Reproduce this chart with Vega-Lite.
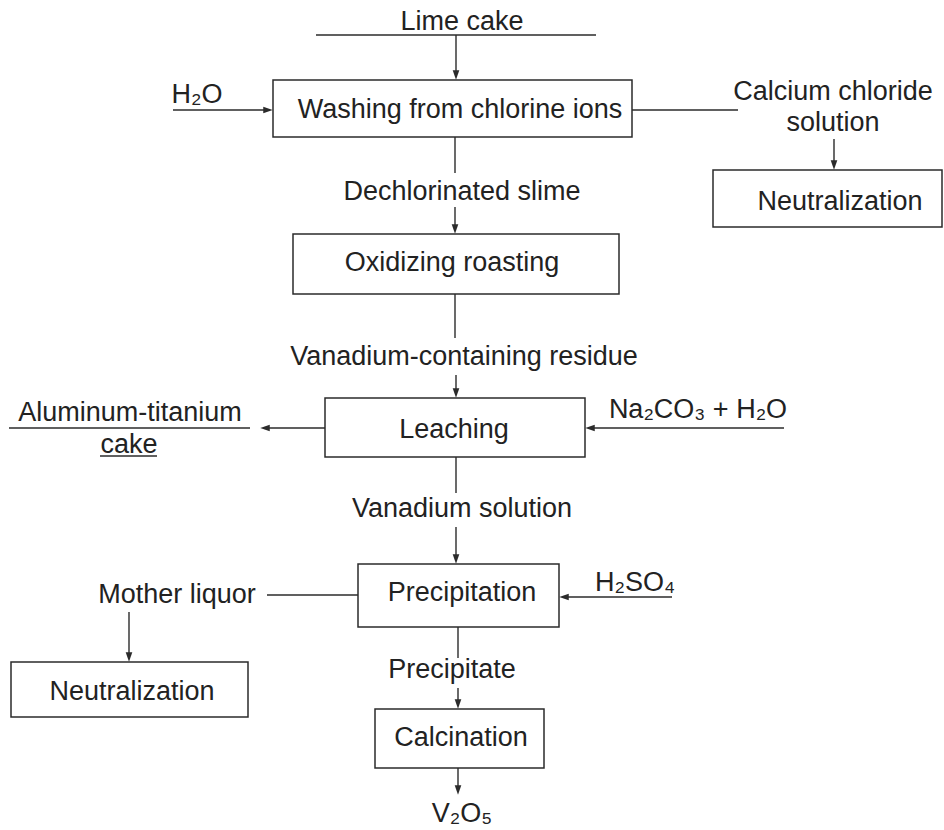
{
  "$schema": "https://vega.github.io/schema/vega-lite/v6.json",
  "width": 944,
  "height": 830,
  "autosize": {"type": "none"},
  "padding": 0,
  "background": "white",
  "config": {"view": {"stroke": null}},
  "datasets": {
    "boxes": [
      {"name": "Washing", "x1": 273, "x2": 632, "y1": 80, "y2": 137},
      {"name": "NeutralR", "x1": 713, "x2": 942, "y1": 170, "y2": 227},
      {"name": "Oxidizing", "x1": 293, "x2": 619, "y1": 234, "y2": 294},
      {"name": "Leaching", "x1": 325, "x2": 585, "y1": 398, "y2": 457},
      {"name": "Precipitation", "x1": 358, "x2": 559, "y1": 564, "y2": 627},
      {"name": "NeutralL", "x1": 11, "x2": 248, "y1": 662, "y2": 717},
      {"name": "Calcination", "x1": 375, "x2": 544, "y1": 709, "y2": 768}
    ],
    "lines": [
      {"x1": 316, "y1": 35, "x2": 596, "y2": 35},
      {"x1": 456, "y1": 35, "x2": 456, "y2": 76},
      {"x1": 173, "y1": 110, "x2": 269, "y2": 110},
      {"x1": 632, "y1": 110, "x2": 738, "y2": 110},
      {"x1": 834, "y1": 139, "x2": 834, "y2": 166},
      {"x1": 455, "y1": 137, "x2": 455, "y2": 173},
      {"x1": 455, "y1": 207, "x2": 455, "y2": 230},
      {"x1": 455, "y1": 294, "x2": 455, "y2": 338},
      {"x1": 456, "y1": 375, "x2": 456, "y2": 394},
      {"x1": 264, "y1": 428, "x2": 325, "y2": 428},
      {"x1": 9, "y1": 428, "x2": 250, "y2": 428},
      {"x1": 100, "y1": 456, "x2": 157, "y2": 456},
      {"x1": 589, "y1": 428, "x2": 784, "y2": 428},
      {"x1": 456, "y1": 457, "x2": 456, "y2": 493},
      {"x1": 456, "y1": 527, "x2": 456, "y2": 560},
      {"x1": 267, "y1": 595, "x2": 358, "y2": 595},
      {"x1": 129, "y1": 612, "x2": 129, "y2": 658},
      {"x1": 563, "y1": 597, "x2": 672, "y2": 597},
      {"x1": 458, "y1": 627, "x2": 458, "y2": 658},
      {"x1": 458, "y1": 688, "x2": 458, "y2": 705},
      {"x1": 458, "y1": 768, "x2": 458, "y2": 791}
    ],
    "arrows": [
      {"x": 456, "y": 75, "dir": "down"},
      {"x": 268, "y": 110, "dir": "right"},
      {"x": 834, "y": 165, "dir": "down"},
      {"x": 455, "y": 229, "dir": "down"},
      {"x": 456, "y": 393, "dir": "down"},
      {"x": 265, "y": 428, "dir": "left"},
      {"x": 590, "y": 428, "dir": "left"},
      {"x": 456, "y": 559, "dir": "down"},
      {"x": 129, "y": 657, "dir": "down"},
      {"x": 564, "y": 597, "dir": "left"},
      {"x": 458, "y": 704, "dir": "down"},
      {"x": 458, "y": 790, "dir": "down"}
    ],
    "texts": [
      {"text": "Lime cake", "x": 462, "y": 22},
      {"text": "H₂O", "x": 197, "y": 95},
      {"text": "Washing from chlorine ions", "x": 460, "y": 110},
      {"text": "Calcium chloride", "x": 833, "y": 92},
      {"text": "solution", "x": 833, "y": 123},
      {"text": "Neutralization", "x": 840, "y": 202},
      {"text": "Dechlorinated slime", "x": 462, "y": 192},
      {"text": "Oxidizing roasting", "x": 452, "y": 263},
      {"text": "Vanadium-containing residue", "x": 464, "y": 357},
      {"text": "Aluminum-titanium", "x": 130, "y": 413},
      {"text": "cake", "x": 129, "y": 445},
      {"text": "Leaching", "x": 454, "y": 430},
      {"text": "Na₂CO₃ + H₂O", "x": 698, "y": 410},
      {"text": "Vanadium solution", "x": 462, "y": 509},
      {"text": "Precipitation", "x": 462, "y": 593},
      {"text": "Mother liquor", "x": 177, "y": 595},
      {"text": "H₂SO₄", "x": 635, "y": 583},
      {"text": "Neutralization", "x": 132, "y": 692},
      {"text": "Precipitate", "x": 452, "y": 670},
      {"text": "Calcination", "x": 461, "y": 738},
      {"text": "V₂O₅", "x": 462, "y": 814}
    ]
  },
  "layer": [
    {
      "data": {"name": "boxes"},
      "mark": {"type": "rect", "fill": "white", "stroke": "#2b2b2b", "strokeWidth": 1.5},
      "encoding": {
        "x": {"field": "x1", "type": "quantitative", "scale": {"domain": [0, 944], "range": [0, 944], "nice": false, "zero": false}, "axis": null},
        "x2": {"field": "x2"},
        "y": {"field": "y1", "type": "quantitative", "scale": {"domain": [0, 830], "range": [0, 830], "nice": false, "zero": false}, "axis": null},
        "y2": {"field": "y2"}
      }
    },
    {
      "data": {"name": "lines"},
      "mark": {"type": "rule", "stroke": "#2b2b2b", "strokeWidth": 1.4},
      "encoding": {
        "x": {"field": "x1", "type": "quantitative"},
        "x2": {"field": "x2"},
        "y": {"field": "y1", "type": "quantitative"},
        "y2": {"field": "y2"}
      }
    },
    {
      "data": {"name": "arrows"},
      "mark": {"type": "point", "filled": true, "size": 90, "opacity": 1, "color": "#2b2b2b"},
      "encoding": {
        "x": {"field": "x", "type": "quantitative"},
        "y": {"field": "y", "type": "quantitative"},
        "shape": {
          "field": "dir",
          "type": "nominal",
          "scale": {"domain": ["down", "left", "right"], "range": ["M-0.7,-1L0.7,-1L0,1Z", "M1,-0.7L1,0.7L-1,0Z", "M-1,-0.7L-1,0.7L1,0Z"]},
          "legend": null
        }
      }
    },
    {
      "data": {"name": "texts"},
      "mark": {"type": "text", "font": "Liberation Sans", "fontSize": 27, "color": "#222", "align": "center", "baseline": "middle"},
      "encoding": {
        "x": {"field": "x", "type": "quantitative"},
        "y": {"field": "y", "type": "quantitative"},
        "text": {"field": "text"}
      }
    }
  ]
}
